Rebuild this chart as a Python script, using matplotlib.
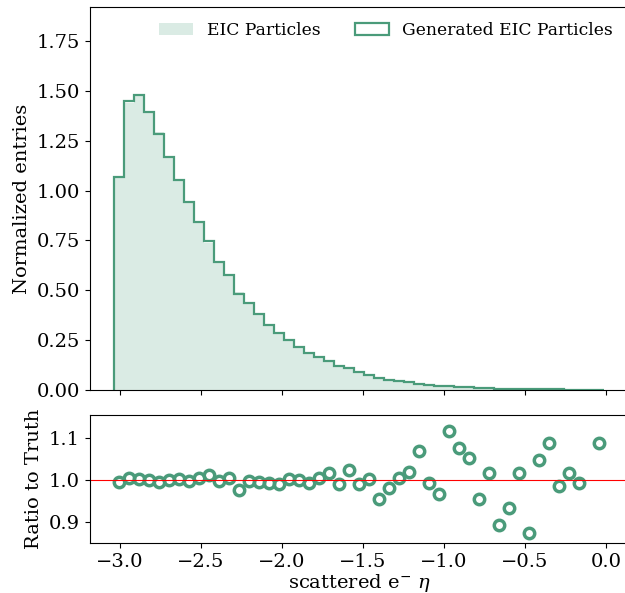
import numpy as np
import matplotlib.pyplot as plt

plt.rcParams['font.family'] = 'DejaVu Serif'
plt.rcParams['mathtext.fontset'] = 'dejavuserif'

# bin edges of the eta histogram (49 bins)
bin_edges = np.linspace(-3.037, -0.012, 50)
bin_centers = 0.5 * (bin_edges[:-1] + bin_edges[1:])

# normalized entries
truth_heights = [1.073, 1.441, 1.474, 1.393, 1.291, 1.170, 1.051, 0.943, 0.836, 0.737,
                 0.645, 0.572, 0.491, 0.436, 0.381, 0.331, 0.288, 0.251, 0.217, 0.187,
                 0.164, 0.145, 0.124, 0.107, 0.092, 0.077, 0.064, 0.053, 0.043, 0.037,
                 0.030, 0.025, 0.021, 0.018, 0.015, 0.013, 0.011, 0.009, 0.008, 0.007,
                 0.006, 0.005, 0.004, 0.0035, 0.003, 0.0025, 0.002, 0.002, 0.0015]

# ratio generated / truth per bin
ratio = [0.996, 1.004, 1.003, 0.999, 0.996, 0.999, 1.002, 0.997, 1.006, 1.012,
         0.997, 1.006, 0.977, 0.998, 0.996, 0.992, 0.990, 1.003, 1.000, 0.993,
         1.006, 1.016, 0.990, 1.025, 0.991, 1.002, 0.956, 0.980, 1.005, 1.020,
         1.070, 0.993, 0.967, 1.117, 1.076, 1.052, 0.955, 1.017, 0.892, 0.934,
         1.017, 0.875, 1.048, 1.088, 0.985, 1.017, 0.994, np.nan, 1.089]

gen_heights = np.array(truth_heights) * np.nan_to_num(np.array(ratio), nan=1.0)

color = '#4a9b7a'
fs = 14

fig = plt.figure(figsize=(6.25, 5.93), dpi=100)
ax = fig.add_axes([0.1432, 0.3423, 0.8624, 0.6459])
rax = fig.add_axes([0.1432, 0.0843, 0.8624, 0.2159], sharex=ax)

ax.hist(bin_centers, bins=bin_edges, weights=truth_heights, histtype='stepfilled',
        color=color, alpha=0.2, label='EIC Particles')
ax.hist(bin_centers, bins=bin_edges, weights=gen_heights, histtype='step',
        color=color, linewidth=1.6, label='Generated EIC Particles')
ax.set_ylim(0, 1.92)
ax.set_ylabel('Normalized entries', fontsize=fs)
ax.tick_params(labelsize=fs, labelbottom=False)
ax.legend(loc='upper right', ncol=2, frameon=False, fontsize=12.3)

rax.plot(bin_centers, ratio, 'o', color=color, markerfacecolor='none',
         markersize=7.5, markeredgewidth=2.5)
rax.axhline(1.0, color='red', linewidth=0.8)
rax.set_ylim(0.85, 1.155)
rax.set_yticks([0.9, 1.0, 1.1])
rax.set_ylabel('Ratio to Truth', fontsize=fs)
rax.set_xlabel(r'scattered e$^{-}$ $\eta$', fontsize=fs, labelpad=1)
rax.tick_params(labelsize=fs)

fig.savefig('out.png', dpi=100)
